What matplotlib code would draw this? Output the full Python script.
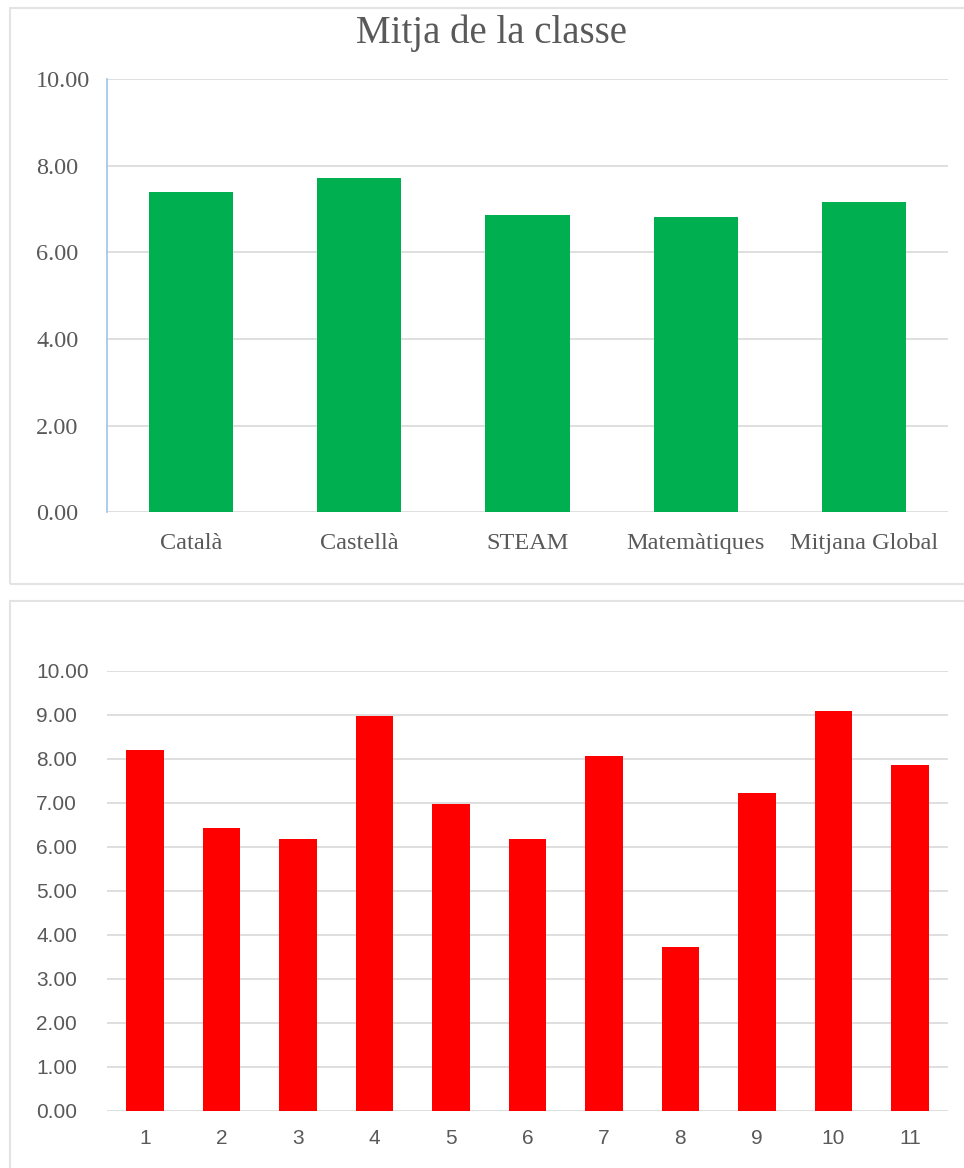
import matplotlib.pyplot as plt
from matplotlib.patches import Rectangle

# class averages per subject
subjects = ['Català', 'Castellà', 'STEAM', 'Matemàtiques', 'Mitjana Global']
class_avg = [7.40, 7.71, 6.85, 6.81, 7.17]

# average per student
students = ['1', '2', '3', '4', '5', '6', '7', '8', '9', '10', '11']
student_avg = [8.20, 6.44, 6.18, 8.98, 6.97, 6.18, 8.07, 3.73, 7.22, 9.09, 7.86]

top_ticks = [0, 2, 4, 6, 8, 10]
bottom_ticks = [0, 1, 2, 3, 4, 5, 6, 7, 8, 9, 10]

W, H = 964, 1168
grey = '#595959'
grid_c = '#d9d9d9'

fig = plt.figure(figsize=(W / 100, H / 100), dpi=100)

# panel frames (Excel chart areas)
fig.patches.append(Rectangle((10 / W, 1 - 584 / H), 1, (584 - 8) / H,
                             transform=fig.transFigure, fill=False,
                             edgecolor='#e3e3e3', lw=1.5))
fig.patches.append(Rectangle((10 / W, -0.1), 1, 0.1 + 1 - 601 / H,
                             transform=fig.transFigure, fill=False,
                             edgecolor='#e3e3e3', lw=1.5))


def setup(ax, ticks, fam, size, xpad):
    ax.set_ylim(0, 10)
    ax.set_yticks(ticks)
    ax.set_yticklabels(['%.2f' % t for t in ticks], ha='left')
    ax.yaxis.grid(True, color=grid_c, lw=1.2)
    ax.set_axisbelow(True)
    for s in ax.spines.values():
        s.set_visible(False)
    ax.tick_params(axis='y', length=0, pad=51, labelcolor=grey, labelsize=size)
    ax.tick_params(axis='x', length=0, pad=xpad, labelcolor=grey, labelsize=size)
    for lab in ax.get_xticklabels() + ax.get_yticklabels():
        lab.set_family(fam)


# top chart
ax1 = fig.add_axes([107 / W, 1 - 512.3 / H, 841 / W, 433.3 / H])
ax1.bar(range(len(subjects)), class_avg, width=0.5, color='#00b050')
ax1.set_xlim(-0.5, len(subjects) - 0.5)
ax1.set_xticks(range(len(subjects)))
ax1.set_xticklabels(subjects)
setup(ax1, top_ticks, 'Liberation Serif', 17.5, 15)
ax1.spines['left'].set_visible(True)
ax1.spines['left'].set_color('#9dc3e6')
ax1.spines['left'].set_linewidth(1.2)
fig.text(492 / W, 1 - 33 / H, 'Mitja de la classe', ha='center', va='center',
         family='Liberation Serif', fontsize=28, color=grey)

# bottom chart
ax2 = fig.add_axes([107 / W, 1 - 1110.7 / H, 841 / W, 439.7 / H])
ax2.bar(range(len(students)), student_avg, width=0.49, color='#ff0000')
ax2.set_xlim(-0.5, len(students) - 0.5)
ax2.set_xticks(range(len(students)))
ax2.set_xticklabels(students)
setup(ax2, bottom_ticks, 'Liberation Sans', 15, 13.5)

fig.savefig('out.png', dpi=100)
